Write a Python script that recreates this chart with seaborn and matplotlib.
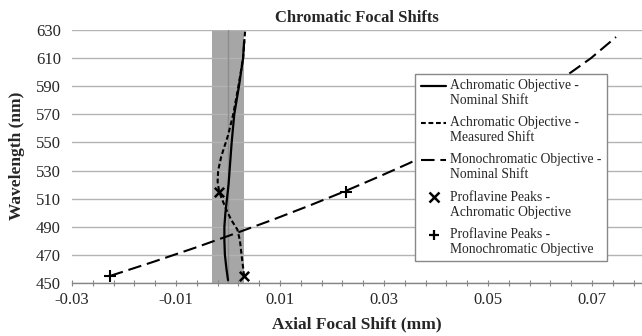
import numpy as np
import pandas as pd
import matplotlib
matplotlib.use("Agg")
import matplotlib.pyplot as plt
from matplotlib.lines import Line2D
from matplotlib.legend_handler import HandlerLine2D
import seaborn as sns

# ---- data ----
nominal_wl = [452, 460, 470, 480, 490, 500, 510, 520, 530, 550, 570, 590, 610, 622]
nominal_shift = [0.0000, -0.0003, -0.0006, -0.0007, -0.0007, -0.0005, -0.0002,
                 0.0001, 0.0003, 0.0007, 0.0012, 0.0021, 0.0029, 0.0031]

measured_wl = [455, 470, 480, 488, 495, 502, 510, 515, 522, 530, 540, 555, 570, 590, 610, 630]
measured_shift = [0.0031, 0.0026, 0.0023, 0.0018, 0.0006, -0.0003, -0.0012, -0.0017,
                  -0.0020, -0.0019, -0.0013, 0.0000, 0.0010, 0.0020, 0.0029, 0.0033]

mono_wl = [455, 465, 475, 485, 495, 505, 515, 525, 535, 550, 570, 590, 610, 625]
mono_shift = [-0.0227, -0.0144, -0.0064, 0.0012, 0.0086, 0.0156, 0.0223, 0.0286,
              0.0347, 0.0432, 0.0534, 0.0622, 0.0698, 0.0746]

peaks_achro_wl = [515, 455]
peaks_achro_shift = [-0.0017, 0.0031]

peaks_mono_wl = [455, 515]
peaks_mono_shift = [-0.0227, 0.0227]

band_limits = [-0.003, 0.003]

x_labels = ["-0.03", "-0.01", "0.01", "0.03", "0.05", "0.07"]
y_ticks = [450, 470, 490, 510, 530, 550, 570, 590, 610, 630]

title = "Chromatic Focal Shifts"
xlabel = "Axial Focal Shift (mm)"
ylabel = "Wavelength (nm)"
labels = ["Achromatic Objective -\nNominal Shift",
          "Achromatic Objective -\nMeasured Shift",
          "Monochromatic Objective -\nNominal Shift",
          "Proflavine Peaks -\nAchromatic Objective",
          "Proflavine Peaks -\nMonochromatic Objective"]


class FirstLineHandler(HandlerLine2D):
    """Places the legend key level with the first line of a two-line label."""
    def create_artists(self, legend, orig_handle, xdescent, ydescent, width,
                       height, fontsize, trans):
        arts = super().create_artists(legend, orig_handle, xdescent, ydescent,
                                      width, height, fontsize, trans)
        for a in arts:
            a.set_ydata(np.asarray(a.get_ydata(), dtype=float) + 0.55 * fontsize)
        return arts


# ---- figure ----
sns.set_theme(style="white")
plt.rcParams['font.family'] = ['Liberation Serif', 'DejaVu Serif']

fig = plt.figure(figsize=(6.42, 3.36), dpi=100)
ax = fig.add_axes([72 / 642, (336 - 283) / 336, (642 - 72) / 642, (283 - 30) / 336])

ax.axvspan(band_limits[0], band_limits[1], color="#a6a6a6", lw=0, zorder=0.3)
ax.axvline(0, color="#8c8c8c", lw=1.0, zorder=0.6)

SOLID = dict(color="black", lw=1.6)
MEAS_D = (2.3, 1.3)
MONO_D = (6.5, 2.8)

sns.lineplot(x=nominal_shift, y=nominal_wl, sort=False, estimator=None, ax=ax,
             zorder=3, **SOLID)
sns.lineplot(x=measured_shift, y=measured_wl, sort=False, estimator=None, ax=ax,
             color="black", lw=1.5, zorder=3)
ax.lines[-1].set_dashes(MEAS_D)
sns.lineplot(x=mono_shift, y=mono_wl, sort=False, estimator=None, ax=ax,
             color="black", lw=1.5, zorder=3)
ax.lines[-1].set_dashes(MONO_D)
sns.scatterplot(x=peaks_achro_shift, y=peaks_achro_wl, marker="x", s=45,
                color="black", linewidth=1.8, ax=ax, zorder=4)
sns.scatterplot(x=peaks_mono_shift, y=peaks_mono_wl, marker="+", s=80,
                color="black", linewidth=1.5, ax=ax, zorder=4)

ax.set_xlim(-0.03, 0.0796)
ax.set_ylim(450, 630)

xt = [-0.03 + 0.004 * k for k in range(28)]
ax.set_xticks(xt)
xtl = []
for k in range(28):
    xtl.append(x_labels[k // 5] if k % 5 == 0 else "")
ax.set_xticklabels(xtl)
ax.set_yticks(y_ticks)

ax.yaxis.grid(True, color="#b3b3b3", lw=1.0)
ax.xaxis.grid(False)
ax.set_axisbelow(True)

for s in ["left", "right", "top"]:
    ax.spines[s].set_visible(False)
ax.spines["bottom"].set_color("#868686")
ax.spines["bottom"].set_linewidth(1.0)

ax.tick_params(axis="x", direction="inout", length=5, width=0.8, color="#868686",
               labelsize=12, pad=4, bottom=True)
ax.tick_params(axis="y", length=0, labelsize=12, pad=8)

ax.set_xlabel("")
ax.set_ylabel("")
fig.text((72 + 642) / 2 / 642, 1 - 324 / 336, xlabel, ha="center", va="center",
         fontsize=12.5, fontweight="bold")
fig.text(17 / 642, 1 - 156 / 336, ylabel, ha="center", va="center", rotation=90,
         fontsize=12.5, fontweight="bold")
fig.text((72 + 642) / 2 / 642, 1 - 18 / 336, title, ha="center", va="center",
         fontsize=12, fontweight="bold")

handles = [
    Line2D([], [], **SOLID),
    Line2D([], [], color="black", lw=1.5, dashes=MEAS_D),
    Line2D([], [], color="black", lw=1.5, dashes=MONO_D),
    Line2D([], [], ls="none", marker="x", ms=6.5, mew=1.8, color="black"),
    Line2D([], [], ls="none", marker="+", ms=7.5, mew=1.6, color="black"),
]
leg = ax.legend(handles, labels, loc="upper left", bbox_to_anchor=(0.602, 0.828),
                fontsize=9.8, frameon=True, fancybox=False, framealpha=1,
                edgecolor="#888888", handlelength=1.9, handletextpad=0.25,
                labelspacing=0.68, borderpad=0.4, borderaxespad=0,
                handler_map={Line2D: FirstLineHandler()})
leg.get_frame().set_linewidth(1.0)
leg.set_zorder(10)

fig.savefig("out.png", dpi=100)
